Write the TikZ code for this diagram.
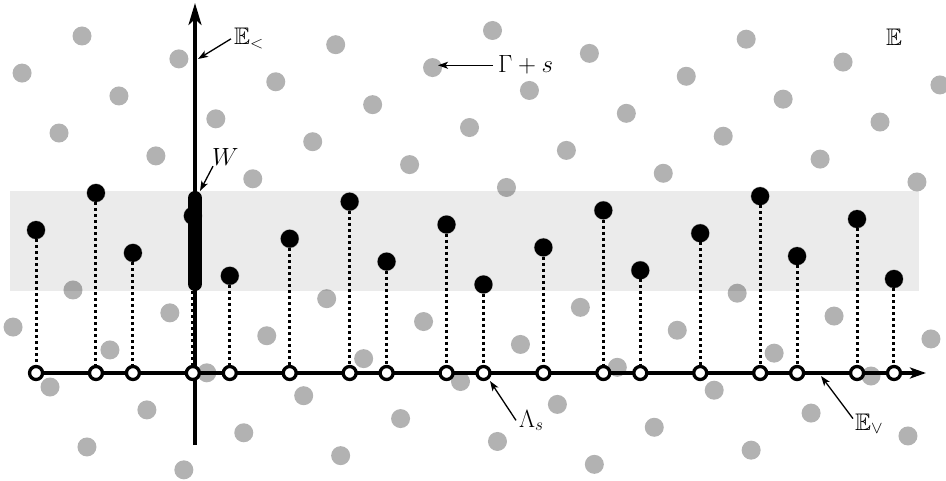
\documentclass[tikz,border=0pt]{standalone}
\usepackage{amssymb}
\usetikzlibrary{arrows.meta}
\tikzset{
  graydot/.style={fill=black!30},
  bdot/.style={circle, fill=black, inner sep=0pt, minimum size=18pt},
  ocirc/.style={circle, draw=black, fill=white, line width=3.3pt, inner sep=0pt, minimum size=13pt},
  dotline/.style={line width=3pt, dash pattern=on 3pt off 3pt},
  axisline/.style={line width=3.2pt},
  lblarrow/.style={line width=1.3pt, -{Stealth[length=10pt,width=7pt,inset=2.5pt]}},
  lbl/.style={font=\fontsize{24}{28}\selectfont, inner sep=0pt, anchor=base west},
}
\begin{document}
\begin{tikzpicture}[x=1pt,y=-1pt]
\useasboundingbox (0,0) rectangle (946,481);
\clip (0,0) rectangle (946,481);
% lattice Gamma + s
\foreach \m in {-10,...,14}{
  \foreach \n in {-6,...,12}{
    \pgfmathsetmacro\px{82-59.93*\m+96.88*\n}
    \pgfmathsetmacro\py{36+37.07*\m+22.88*\n}
    \pgfmathtruncatemacro\vis{and(and(\px>5,\px<942),and(\py>26,\py<471.5))}
    \ifnum\vis=1 \fill[graydot] (\px,\py) circle[radius=9.5pt]; \fi
  }}
% window strip
\fill[black, opacity=0.08] (10,191) rectangle (919,291);
% axes
\coordinate (hs) at (35,373);
\coordinate (he) at (926,373);
\draw[axisline, -{Stealth[length=16pt,width=11pt,inset=4pt]}] (hs) -- (he);
\coordinate (vb) at (195,445);
\coordinate (vt) at (195,3);
\draw[line width=3.5pt, -{Stealth[length=22pt,width=13pt,inset=6pt]}] (vb) -- (vt);
% points in the window and their projections
\foreach \m in {-2,...,6}{
  \foreach \n in {0,...,10}{
    \pgfmathsetmacro\px{82-59.93*\m+96.88*\n}
    \pgfmathsetmacro\py{36+37.07*\m+22.88*\n}
    \pgfmathtruncatemacro\ins{and(and(\px>10,\px<919),and(\py>190.5,\py<287))}
    \ifnum\ins=1
      \pgfmathtruncatemacro\id{(\m+20)*100+\n}
      \node[bdot] (b\id) at (\px,\py) {};
      \node[ocirc] (c\id) at (\px,373) {};
      \draw[dotline] (b\id) -- (c\id);
    \fi
  }}
% window W
\coordinate (wt) at (195,198);
\coordinate (wb) at (195,284);
\draw[line width=14pt, line cap=round] (wt) -- (wb);
% labels
\node[lbl] (lel) at (234,45) {$\mathbb{E}_<$};
\coordinate (elh) at (198,59);
\draw[lblarrow] ([xshift=-3pt]lel.west) -- (elh);

\node[lbl] (lg) at (498,73) {$\Gamma+s$};
\coordinate (lgh) at (443,65);
\draw[lblarrow] ([xshift=-5pt]lg.west) -- ([xshift=-5pt]lg.west -| lgh);

\node[lbl] (le) at (886,46) {$\mathbb{E}$};

\node[lbl] (lw) at (212,166) {$W$};
\coordinate (lwh) at (200,191);
\draw[lblarrow] ([xshift=1pt]lw.south west) -- (lwh);

\node[lbl] (ll) at (519,427) {$\Lambda_s$};
\coordinate (llh) at (490,381);
\draw[lblarrow] ([xshift=-3pt]ll.west) -- (llh);

\node[lbl] (lv) at (855,430) {$\mathbb{E}_\vee$};
\coordinate (lvh) at (821,376);
\draw[lblarrow] ([xshift=-2pt,yshift=5pt]lv.west) -- (lvh);
\end{tikzpicture}
\end{document}
